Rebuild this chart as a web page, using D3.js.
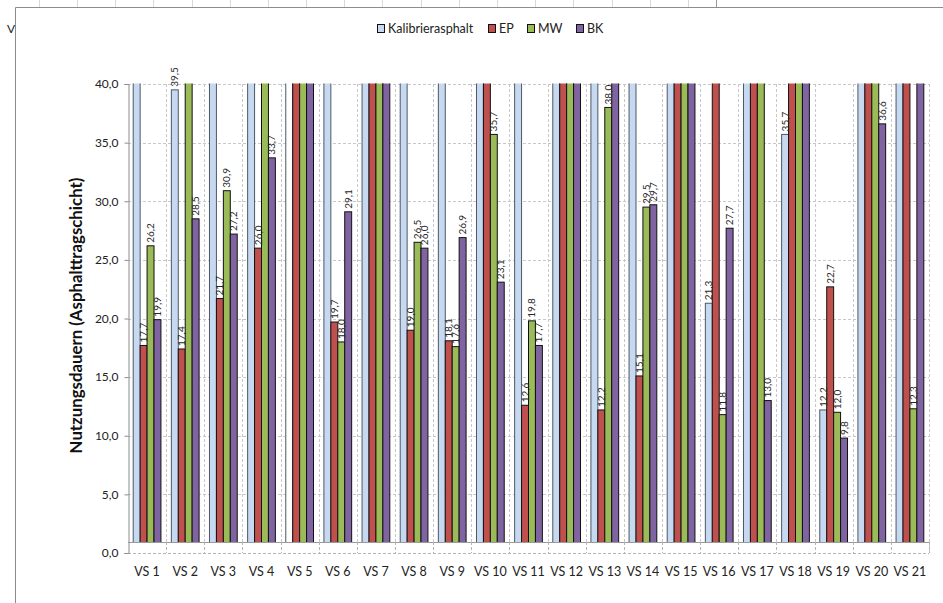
<!DOCTYPE html>
<html>
<head>
<meta charset="utf-8">
<script src="https://cdn.jsdelivr.net/npm/d3@7"></script>
<style>
  html, body { margin: 0; padding: 0; background: #fff; overflow: hidden; }
  svg { display: block; font-family: Lato, "Open Sans", sans-serif; }
</style>
</head>
<body>
<svg id="chart" width="943" height="603"></svg>
<script>
// Nutzungsdauern je Versuchsstrecke (Jahre). Werte über 40 laufen oben aus dem Diagramm.
const categories = ["VS 1","VS 2","VS 3","VS 4","VS 5","VS 6","VS 7","VS 8","VS 9","VS 10","VS 11",
                    "VS 12","VS 13","VS 14","VS 15","VS 16","VS 17","VS 18","VS 19","VS 20","VS 21"];
const seriesNames = ["Kalibrierasphalt","EP","MW","BK"];
const kalibrierasphalt = [50, 39.5, 50, 50, 50, 50, 50, 50, 50, 50, 50, 50, 50, 50, 50, 21.3, 50, 35.7, 12.2, 50, 50];
const ep               = [17.7, 17.4, 21.7, 26.0, 50, 19.7, 50, 19.0, 18.1, 50, 12.6, 50, 12.2, 15.1, 50, 50, 50, 50, 22.7, 50, 50];
const mw               = [26.2, 50, 30.9, 50, 50, 18.0, 50, 26.5, 17.6, 35.7, 19.8, 50, 38.0, 29.5, 50, 11.8, 50, 50, 12.0, 50, 12.3];
const bk               = [19.9, 28.5, 27.2, 33.7, 50, 29.1, 50, 26.0, 26.9, 23.1, 17.7, 50, 50, 29.7, 50, 27.7, 13.0, 50, 9.8, 36.6, 50];
const yTicks = [0, 5, 10, 15, 20, 25, 30, 35, 40];
const colors = ["#c6d9f1", "#c0504d", "#9bbb59", "#8064a2"];
// single data points with their own fill
const pointFills = { "VS 5|Kalibrierasphalt": "#ffffff" };
const yTitle = "Nutzungsdauern (Asphalttragschicht)";

const seriesValues = [kalibrierasphalt, ep, mw, bk];
const rows = categories.map((c, i) => ({
  cat: c,
  vals: seriesNames.map((s, k) => ({ cat: c, key: s, value: seriesValues[k][i] }))
}));

const svg = d3.select("#chart");
const plot = { left: 128, right: 929, top: 84, bottom: 553 };

const x0 = d3.scaleBand().domain(categories).range([plot.left, plot.right]);
const x1 = d3.scaleBand().domain(seriesNames).range([0, x0.bandwidth()]).paddingOuter(0.75);
const y = d3.scaleLinear().domain([0, 40]).range([plot.bottom, plot.top]);
const color = d3.scaleOrdinal().domain(seriesNames).range(colors);
const fmt = v => d3.format(".1f")(v).replace(".", ",");

// sheet remnants around the chart object
const sheet = svg.append("g");
[39, 77, 115, 153, 192, 230, 268, 306, 344, 382, 421, 459, 497, 535, 573, 612, 650, 688].forEach(px => {
  sheet.append("line").attr("x1", px + 0.5).attr("x2", px + 0.5).attr("y1", 0).attr("y2", 7)
    .attr("stroke", "#d9d9d9");
});
sheet.append("line").attr("x1", 716.5).attr("x2", 716.5).attr("y1", 0).attr("y2", 7).attr("stroke", "#9a9a9a");
sheet.append("text").attr("x", 7).attr("y", 33).attr("font-size", 12).attr("fill", "#222").text("V");

// chart frame (top and left edges)
svg.append("line").attr("x1", 15.5).attr("x2", 943).attr("y1", 7.5).attr("y2", 7.5).attr("stroke", "#8c8c8c");
svg.append("line").attr("x1", 15.5).attr("x2", 15.5).attr("y1", 7.5).attr("y2", 603).attr("stroke", "#8c8c8c");

// horizontal gridlines
svg.append("g").selectAll("line").data(yTicks.filter(t => t > 0)).join("line")
  .attr("x1", plot.left).attr("x2", plot.right)
  .attr("y1", d => Math.round(y(d)) + 0.5).attr("y2", d => Math.round(y(d)) + 0.5)
  .attr("stroke", "#c8c8c8").attr("stroke-dasharray", "3,2");

// vertical gridlines at category boundaries
const bounds = categories.map(c => x0(c)).concat([plot.right]).slice(1);
svg.append("g").selectAll("line").data(bounds).join("line")
  .attr("x1", d => Math.round(d) + 0.5).attr("x2", d => Math.round(d) + 0.5)
  .attr("y1", plot.top).attr("y2", plot.bottom)
  .attr("stroke", "#c8c8c8").attr("stroke-dasharray", "3,2");

// bars, clipped to the plot area
svg.append("clipPath").attr("id", "plotClip").append("rect")
  .attr("x", plot.left).attr("y", plot.top - 0.5)
  .attr("width", plot.right - plot.left).attr("height", plot.bottom - plot.top + 0.5);

const bars = svg.append("g").attr("clip-path", "url(#plotClip)");
const groups = bars.selectAll("g").data(rows).join("g")
  .attr("transform", d => `translate(${x0(d.cat)},0)`);
groups.selectAll("rect").data(d => d.vals).join("rect")
  .attr("x", d => x1(d.key))
  .attr("y", d => y(d.value))
  .attr("width", x1.bandwidth())
  .attr("height", d => y(0) - y(d.value))
  .attr("fill", d => pointFills[d.cat + "|" + d.key] || color(d.key))
  .attr("stroke", d => d.key === "Kalibrierasphalt" ? "#4d5866" : "#111")
  .attr("stroke-width", 1);

// category axis band below the bars
const bandTop = 542;
svg.append("rect").attr("x", plot.left).attr("y", bandTop)
  .attr("width", plot.right - plot.left).attr("height", plot.bottom - bandTop + 1).attr("fill", "#fff");
svg.append("line").attr("x1", plot.left).attr("x2", plot.right).attr("y1", bandTop + 0.5).attr("y2", bandTop + 0.5)
  .attr("stroke", "#9a9a9a");
svg.append("line").attr("x1", plot.left).attr("x2", plot.right).attr("y1", plot.bottom + 0.5).attr("y2", plot.bottom + 0.5)
  .attr("stroke", "#b4b4b4").attr("stroke-dasharray", "3,2");
svg.append("g").selectAll("line").data(bounds).join("line")
  .attr("x1", d => Math.round(d) + 0.5).attr("x2", d => Math.round(d) + 0.5)
  .attr("y1", bandTop).attr("y2", plot.bottom)
  .attr("stroke", "#b4b4b4").attr("stroke-dasharray", "3,2");

// value labels (only for bars that end inside the axis range)
const labels = svg.append("g").attr("font-size", 10).attr("fill", "#262626");
rows.forEach(r => {
  r.vals.filter(v => v.value <= 40).forEach(v => {
    const cx = x0(r.cat) + x1(v.key) + x1.bandwidth() / 2;
    const ty = y(v.value) - 3;
    labels.append("text")
      .attr("transform", `translate(${cx + 3.5},${ty}) rotate(-90)`)
      .attr("text-anchor", "start")
      .text(fmt(v.value));
  });
});

// value axis
const yAxis = svg.append("g").attr("transform", `translate(${plot.left + 0.5},0)`)
  .call(d3.axisLeft(y).tickValues(yTicks).tickSize(4).tickFormat(fmt));
yAxis.select(".domain").attr("stroke", "#8c8c8c");
yAxis.selectAll(".tick line").attr("stroke", "#8c8c8c");
yAxis.selectAll(".tick text").attr("font-size", 12).attr("fill", "#222")
  .attr("font-family", "Lato, sans-serif").attr("x", -10);

// category labels
svg.append("g").selectAll("text").data(categories).join("text")
  .attr("x", d => x0(d) + x0.bandwidth() / 2)
  .attr("y", 576)
  .attr("text-anchor", "middle")
  .attr("font-size", 12.5).attr("fill", "#222")
  .text(d => d);

// value axis title
svg.append("text")
  .attr("transform", `translate(82,${(plot.top + plot.bottom) / 2 - 3}) rotate(-90)`)
  .attr("text-anchor", "middle")
  .attr("font-size", 16.8).attr("font-weight", "bold").attr("fill", "#111")
  .text(yTitle);

// legend
const legendPos = [377, 488, 527, 576];
const legend = svg.append("g");
seriesNames.forEach((s, i) => {
  const g = legend.append("g").attr("transform", `translate(${legendPos[i]},24)`);
  g.append("rect").attr("x", 0.5).attr("y", 0.5).attr("width", 7).attr("height", 8)
    .attr("fill", colors[i]).attr("stroke", "#111");
  g.append("text").attr("x", 11).attr("y", 8.5).attr("font-size", 12.5).attr("fill", "#222").text(s);
});
</script>
</body>
</html>
